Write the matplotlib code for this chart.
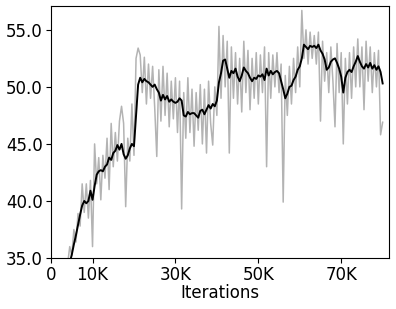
import numpy as np
import matplotlib
matplotlib.use("Agg")
import matplotlib.pyplot as plt

# iterations in thousands, sampled every 0.5K from 4.0K to 80.0K
iterations_k = np.arange(4.0, 80.01, 0.5)

raw_score = [
    34.5, 36.0, 35.2, 37.5, 36.4, 38.9, 37.8, 41.5, 39.0, 41.5,
    38.5, 41.8, 36.0, 45.0, 41.5, 43.8, 40.1, 44.0, 42.0, 45.5,
    41.0, 46.8, 43.0, 46.0, 43.5, 47.0, 48.3, 46.8, 39.5, 45.5,
    43.5, 48.5, 44.0, 52.5, 53.4, 52.8, 49.5, 52.6, 48.5, 52.0,
    49.0, 51.8, 48.2, 43.9, 51.5, 47.0, 51.8, 47.5, 51.2, 46.5,
    50.5, 47.2, 50.8, 46.0, 50.5, 39.3, 49.5, 45.5, 50.8, 46.0,
    49.8, 44.8, 49.5, 46.2, 50.2, 45.0, 49.8, 44.2, 50.5, 46.8,
    44.9, 50.0, 47.5, 55.3, 49.0, 54.5, 50.0, 54.0, 44.2, 53.5,
    49.0, 53.0, 48.5, 52.5, 47.8, 54.0, 49.5, 53.2, 48.0, 52.5,
    49.0, 53.0, 48.5, 52.8, 49.5, 53.5, 43.0, 53.0, 49.0, 52.8,
    50.0, 53.0, 49.5, 52.0, 39.9, 51.0, 47.5, 51.8, 48.5, 52.5,
    49.5, 53.5, 50.0, 56.7, 52.5, 55.0, 52.0, 54.8, 52.5, 54.5,
    52.0, 54.8, 47.0, 54.0, 50.5, 53.0, 49.5, 53.5, 50.5, 46.5,
    53.8, 49.5, 53.0, 45.0, 52.5, 48.5, 53.0, 49.0, 53.5, 50.0,
    54.2, 50.0, 53.5, 48.0, 54.0, 50.5, 53.5, 49.5, 53.0, 50.0,
    53.2, 45.8, 46.9,
]

smooth_score = [
    34.0, 34.6, 35.3, 36.2, 37.0, 37.9, 38.8, 39.6, 40.0, 39.8,
    40.0, 40.9, 40.1, 41.3, 42.3, 42.6, 42.7, 42.6, 43.0, 43.2,
    43.8, 43.6, 44.2, 44.4, 44.9, 44.5, 45.0, 44.1, 43.7, 44.0,
    44.6, 45.0, 44.8, 47.5, 50.2, 50.8, 50.4, 50.7, 50.5, 50.4,
    50.2, 50.0, 50.2, 49.8, 49.5, 48.8, 49.3, 48.9, 49.2, 48.7,
    48.9, 48.7, 48.6, 48.7, 49.0, 48.8, 47.5, 47.4, 47.8, 47.6,
    47.7, 47.7, 47.5, 47.3, 47.9, 48.0, 47.6, 48.0, 48.4, 48.1,
    48.5, 48.3, 48.8, 50.4, 51.2, 52.3, 52.4, 51.6, 50.8, 51.4,
    51.2, 51.6, 50.9, 50.5, 51.0, 51.7, 51.4, 51.2, 50.8, 50.5,
    50.8, 50.7, 51.0, 50.9, 51.1, 50.6, 51.6, 51.0, 51.4, 51.1,
    51.3, 51.4, 51.2, 50.5, 49.8, 49.0, 49.4, 50.0, 50.1, 50.6,
    50.9, 51.5, 51.8, 52.5, 53.7, 53.5, 53.3, 53.6, 53.5, 53.6,
    53.4, 53.7, 53.2, 52.9, 52.4, 51.5, 51.7, 52.2, 52.4, 52.5,
    52.1, 51.6, 50.9, 49.5, 50.8, 51.3, 51.5, 51.3, 51.8, 52.2,
    52.7, 52.2, 51.8, 51.6, 52.0, 51.7, 52.1, 51.6, 51.9, 51.5,
    51.8, 51.3, 50.3,
]

xtick_vals = [0, 10, 30, 50, 70]
xtick_labels = ["0", "10K", "30K", "50K", "70K"]
ytick_vals = [35.0, 40.0, 45.0, 50.0, 55.0]

fig = plt.figure(figsize=(3.96, 3.09), dpi=100)
ax = fig.add_axes([0.129, 0.165, 0.853, 0.816])

ax.plot(iterations_k, raw_score, color="#b3b3b3", linewidth=1.1)
ax.plot(iterations_k, smooth_score, color="black", linewidth=1.4)

ax.set_xlim(0, 81.5)
ax.set_ylim(35.0, 57.1)
ax.set_xticks(xtick_vals)
ax.set_xticklabels(xtick_labels)
ax.set_yticks(ytick_vals)
ax.set_yticklabels([f"{v:.1f}" for v in ytick_vals])
ax.tick_params(labelsize=12, pad=2.5)
ax.set_xlabel("Iterations", fontsize=12, labelpad=0)

fig.savefig("out.png", dpi=100)
